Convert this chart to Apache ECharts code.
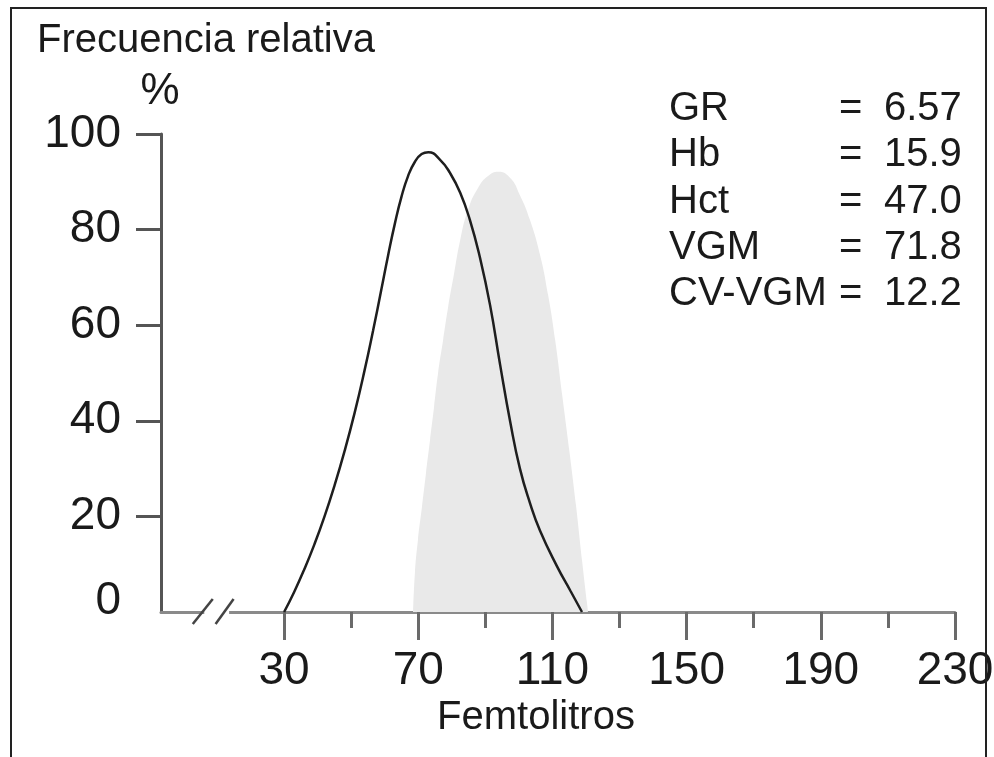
<!DOCTYPE html>
<html><head><meta charset="utf-8">
<script src="https://cdn.jsdelivr.net/npm/echarts@6/dist/echarts.min.js"></script>
<style>
html,body{margin:0;padding:0;background:#fff;}
#wrap{position:relative;width:994px;height:757px;overflow:hidden;}
#chart{position:absolute;left:0;top:0;width:994px;height:757px;}
#frame{position:absolute;left:10px;top:7px;width:977px;height:800px;border:2px solid #222;box-sizing:border-box;pointer-events:none;}
</style></head><body>
<div id="wrap"><div id="chart"></div><div id="frame"></div></div>
<script>
// ---- data ----
const yTickValues = [20, 40, 60, 80, 100];
const xLabelTicks = [30, 70, 110, 150, 190, 230];
const xMinorTicks = [50, 90, 130, 170, 210];
const patientX = [30, 33, 36, 39, 42, 45, 48, 51, 54, 56.5, 59, 61, 63, 65, 67, 69, 71, 73, 76.5, 79.5, 82.5, 85.4, 88.4, 91.4, 94.4, 97.4, 100.3, 103.3, 106.3, 111.4, 115.3, 118.8];
const patientY = [0, 4.2, 8.9, 14.1, 19.9, 26.4, 33.6, 41.6, 50.6, 58.8, 67.5, 74.6, 81.2, 86.9, 91.3, 94.2, 95.8, 96.2, 94.6, 91.8, 87.7, 82.0, 74.1, 64.2, 51.7, 39.8, 30.0, 22.8, 17.0, 9.5, 4.5, 0];
const normalX = [68.45, 69.0, 69.9, 71.1, 72.3, 73.5, 74.7, 75.9, 77.4, 78.9, 80.7, 82.5, 84.8, 87.8, 90.8, 93.8, 97.4, 100.3, 103.3, 106.3, 108.7, 110.8, 112.9, 115.0, 117.0, 118.8, 120.3, 120.6];
const normalY = [0, 8.2, 15.1, 22.0, 29.1, 36.0, 42.9, 50.0, 56.9, 63.8, 70.9, 77.8, 84.1, 88.7, 91.2, 92.1, 90.8, 87.2, 82.0, 74.7, 66.3, 56.9, 45.4, 33.9, 22.4, 10.9, 1.9, 0];
const statLabels = ['GR', 'Hb', 'Hct', 'VGM', 'CV-VGM'];
const statValues = ['6.57', '15.9', '47.0', '71.8', '12.2'];
const yTitle = 'Frecuencia relativa';
const yUnit = '%';
const xTitle = 'Femtolitros';
const axisBreak = [6.2, 13.6];

const FONT = '"Liberation Sans", Arial, sans-serif';
const zip = (xs, ys) => xs.map((x, i) => [x, ys[i]]);

const chart = echarts.init(document.getElementById('chart'), null, {renderer: 'canvas'});

const graphics = [
  {type: 'text', style: {x: 37, y: 41, text: yTitle, font: '40px ' + FONT, fill: '#1a1a1a', verticalAlign: 'middle', align: 'left'}},
  {type: 'text', style: {x: 160, y: 92, text: yUnit, font: '44px ' + FONT, fill: '#1a1a1a', verticalAlign: 'middle', align: 'center'}},
  {type: 'text', style: {x: 536, y: 718, text: xTitle, font: '40px ' + FONT, fill: '#1a1a1a', verticalAlign: 'middle', align: 'center'}}
];
statLabels.forEach((lab, i) => {
  const y = 109 + i * 46.3;
  graphics.push({type: 'text', style: {x: 669, y: y, text: lab, font: '40px ' + FONT, fill: '#1a1a1a', verticalAlign: 'middle', align: 'left'}});
  graphics.push({type: 'text', style: {x: 839, y: y, text: '=', font: '40px ' + FONT, fill: '#1a1a1a', verticalAlign: 'middle', align: 'left'}});
  graphics.push({type: 'text', style: {x: 884, y: y, text: statValues[i], font: '40px ' + FONT, fill: '#1a1a1a', verticalAlign: 'middle', align: 'left'}});
});

const option = {
  animation: false,
  backgroundColor: '#fff',
  grid: {left: 161, right: 39, top: 134, bottom: 145, containLabel: false, outerBoundsMode: 'none'},
  xAxis: [
    {
      type: 'value', min: -6.7, max: 230, position: 'bottom',
      splitLine: {show: false},
      axisLine: {show: true, onZero: false, lineStyle: {color: '#8a8a8a', width: 3}},
      axisTick: {show: true, customValues: xLabelTicks, length: 28, lineStyle: {color: '#6a6a6a', width: 3}},
      axisLabel: {show: true, customValues: xLabelTicks, margin: 36, color: '#1a1a1a', fontSize: 46, fontFamily: FONT}
    },
    {
      type: 'value', min: -6.7, max: 230, position: 'bottom', gridIndex: 0,
      splitLine: {show: false},
      axisLine: {show: false, onZero: false},
      axisTick: {show: true, customValues: xMinorTicks, length: 16, lineStyle: {color: '#6a6a6a', width: 3}},
      axisLabel: {show: false}
    }
  ],
  yAxis: {
    type: 'value', min: 0, max: 100, interval: 20,
    splitLine: {show: false},
    axisLine: {show: true, onZero: false, lineStyle: {color: '#555', width: 3}},
    axisTick: {show: true, customValues: yTickValues, length: 25, lineStyle: {color: '#555', width: 3}},
    axisLabel: {
      show: true, margin: 40, color: '#1a1a1a', fontSize: 46, fontFamily: FONT,
      formatter: v => (v === 0 ? '{z|0}' : String(v)),
      rich: {z: {fontSize: 46, fontFamily: FONT, color: '#1a1a1a', padding: [0, 0, 22, 0]}}
    }
  },
  graphic: graphics,
  series: [
    {
      type: 'line', xAxisIndex: 0, data: zip(normalX, normalY), smooth: 0.5,
      symbol: 'none', lineStyle: {width: 0, color: '#e8e8e8'},
      areaStyle: {color: '#e9e9e9', opacity: 1}, z: 1
    },
    {
      type: 'line', xAxisIndex: 0, data: zip(patientX, patientY), smooth: 0.5,
      symbol: 'none', lineStyle: {width: 2.5, color: '#1e1e1e'}, z: 3
    },
    {
      type: 'custom', xAxisIndex: 0, clip: false, z: 5,
      data: [[axisBreak[0], axisBreak[1]]],
      renderItem: function (params, api) {
        const a = api.coord([api.value(0), 0]);
        const b = api.coord([api.value(1), 0]);
        const c1 = a[0] - 1.5, c2 = b[0] - 4.5, cy = a[1];
        return {
          type: 'group',
          children: [
            {type: 'rect', shape: {x: a[0], y: cy - 3, width: b[0] - a[0], height: 6}, style: {fill: '#fff'}},
            {type: 'line', shape: {x1: c1 - 10, y1: cy + 12, x2: c1 + 10, y2: cy - 13}, style: {stroke: '#444', lineWidth: 2.5}},
            {type: 'line', shape: {x1: c2 - 9, y1: cy + 12, x2: c2 + 9, y2: cy - 13}, style: {stroke: '#444', lineWidth: 2.5}}
          ]
        };
      }
    }
  ]
};
chart.setOption(option);
</script>
</body></html>
